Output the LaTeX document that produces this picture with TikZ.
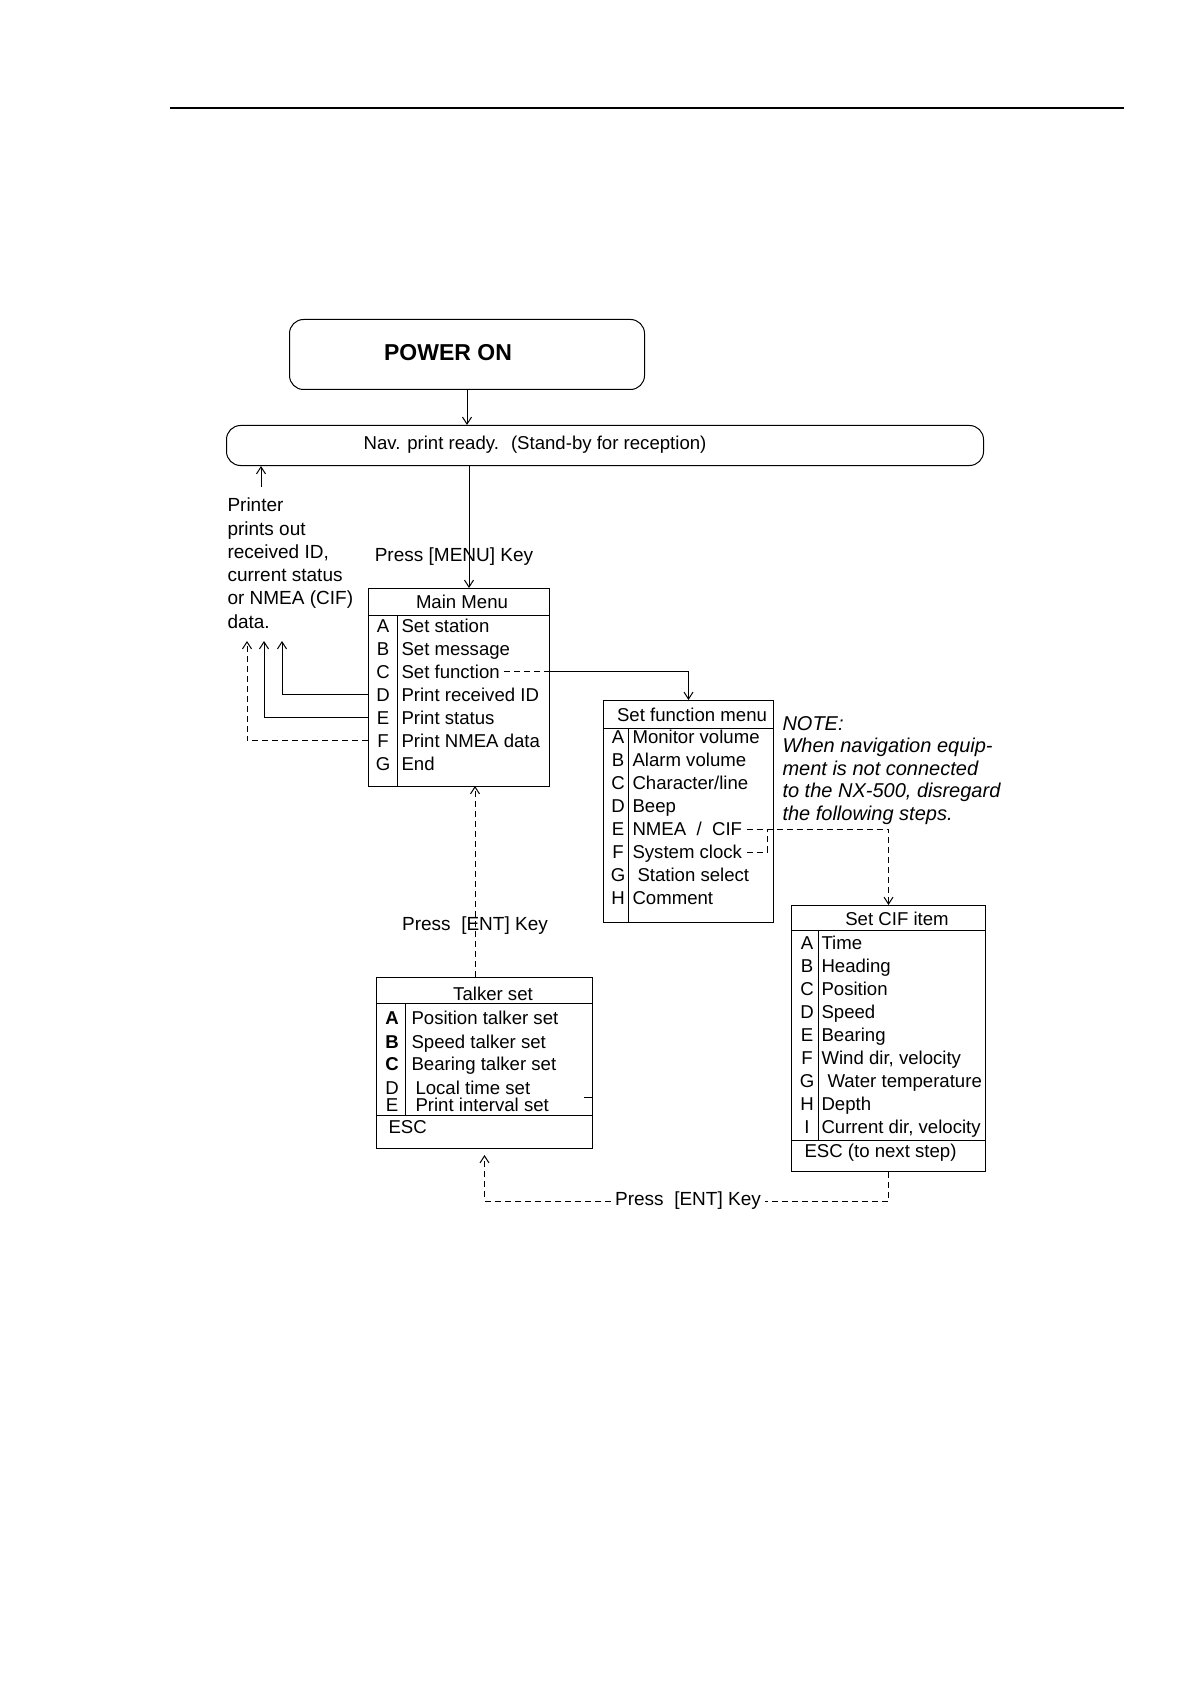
\documentclass[tikz,border=0pt]{standalone}
\usepackage{fontspec}
\setmainfont{Liberation Sans}
\usepackage{tikz}
\usetikzlibrary{arrows.meta}
\tikzstyle{menu} = [draw, rectangle, anchor=north west, inner sep=0pt, line width=.5pt]
\tikzstyle{oval} = [menu, rounded corners=7pt]
\tikzstyle{row} = [inner sep=0pt, text height=6.6pt, text depth=0pt]
\tikzstyle{item} = [row, anchor=west]
\tikzstyle{dashline} = [dash pattern=on 3pt off 2pt]

\begin{document}
\begin{tikzpicture}[x=.5pt,y=-.5pt,line width=.5pt,>={Straight Barb[length=3.5pt,width=4.5pt]},
  font=\fontsize{9.3}{11.6}\selectfont]
\useasboundingbox (0,0) rectangle (1190,1684);
\draw[line width=1pt] (170,108) -- (1124,108);

% top boxes
\node[oval, minimum width=177.5pt, minimum height=35pt] (power) at (289,319) {};
\node[font=\fontsize{11.5}{13}\bfseries] at (448,353) {POWER ON};
\node[oval, minimum width=378.5pt, minimum height=20pt] (nav) at (226,425) {};
\node (ready) at (535,445) {Nav. print ready. \ (Stand-by for reception)};
\draw[->] (power.south) -- (power.south |- nav.north);

\node[anchor=north west, align=left, inner sep=0pt, font=\fontsize{9.5}{11.65}\selectfont] (printer) at (227,497.5)
  {Printer\\prints out\\received ID,\\current status\\or NMEA (CIF)\\data.};
\coordinate (prt) at (261,487);
\draw[->] (prt) -- (prt |- nav.south);

% main menu
\node[menu, minimum width=90.5pt, minimum height=99pt] (main) at (368,588) {};
\node (mtitle) at (462,602) {Main Menu};
\draw (368,615) -- (549,615);
\draw (397,615) -- (397,786);
\foreach \k/\t [count=\i from 0] in {A/Set station,B/Set message,C/Set function,D/Print received ID,E/Print status,F/Print NMEA data,G/End}{
  \node[row] (mk\k) at (383,{626+22.9*\i}) {\k};
  \node[item] (mt\k) at (401,{626+22.9*\i}) {\t};
}
\coordinate (menuin) at (469,588);
\draw[->] (nav.south -| menuin) -- (menuin);
\node[font=\fontsize{9.5}{11}\selectfont] (menukey) at (454,557) {Press [MENU] Key};

\coordinate (tipD) at (282,641);
\coordinate (tipE) at (264,641);
\coordinate (tipF) at (247,641);
\draw[->] (mkD -| main.west) -| (tipD);
\draw[->] (mkE -| main.west) -| (tipE);
\draw[dashline,->] (mkF -| main.west) -| (tipF);

% set function menu
\node[menu, minimum width=85pt, minimum height=111pt] (setfn) at (603,700) {};
\node (stitle) at (692,715) {Set function menu};
\draw (603,728) -- (773,728);
\draw (628,728) -- (628,922);
\foreach \k/\t [count=\i from 0] in {A/Monitor volume,B/Alarm volume,C/{Character/line},D/Beep,E/{NMEA \ / \ CIF},F/System clock,G/\hspace{2.5pt}Station select,H/Comment}{
  \node[row] (sk\k) at (618,{737+23*\i}) {\k};
  \node[item] (st\k) at (632,{737+23*\i}) {\t};
}
\draw[dashline] ([xshift=2pt]mtC.east) -- (mtC -| main.east);
\draw[->] (mtC -| main.east) -| (setfn.north);

\node[anchor=north west, align=left, inner sep=0pt, font=\fontsize{10}{11.25}\itshape] (note) at (782,716)
  {NOTE:\\When navigation equip-\\ment is not connected\\to the NX-500, disregard\\the following steps.};

% set CIF item
\node[menu, minimum width=97pt, minimum height=133pt] (cif) at (791,905) {};
\node (ctitle) at (897,919) {Set CIF item};
\draw (791,930) -- (985,930);
\draw (818,930) -- (818,1140);
\draw (791,1140) -- (985,1140);
\foreach \k/\t [count=\i from 0] in {A/Time,B/Heading,C/Position,D/Speed,E/Bearing,{F/Wind dir, velocity},G/\hspace{3pt}Water temperature,H/Depth,{I/Current dir, velocity}}{
  \node[row] (ck\k) at (807,{943+23*\i}) {\k};
  \node[item] (ct\k) at (821,{943+23*\i}) {\t};
}
\node[item] (cesc) at (804,1151) {ESC (to next step)};
\coordinate (clk) at (767,830);
\draw[dashline,->] ([xshift=2pt]stE.east) -| (cif.north);
\draw[dashline] ([xshift=2pt]stF.east) -| (clk);

% talker set
\node[menu, minimum width=108pt, minimum height=85.5pt] (talker) at (376,977) {};
\node (ttitle) at (493,994) {Talker set};
\draw (376,1003) -- (592,1003);
\draw (405,1003) -- (405,1115);
\draw (376,1115) -- (592,1115);
\draw (584,1097) -- (593,1097);
\foreach \k/\t/\y/\x in {\textbf{A}/Position talker set/1018/411,\textbf{B}/Speed talker set/1042/411,\textbf{C}/Bearing talker set/1064/411,D/Local time set/1088/415,E/Print interval set/1105/415}{
  \node[row] at (392,\y) {\k};
  \node[item] at (\x,\y) {\t};
}
\node[item] (tesc) at (388,1127) {ESC};

\coordinate (entin) at (475,786);
\draw[dashline,->] (talker.north -| entin) -- (entin);
\node[font=\fontsize{9.5}{11}\selectfont] (entkey) at (475,926) {Press \ [ENT] Key};

\node[inner sep=2pt, font=\fontsize{9.5}{11}\selectfont] (back) at (688,1201) {Press \ [ENT] Key};
\draw[dashline] (cif.south) |- (back.east);
\draw[dashline,->,shorten >=3pt] (back.west) -| (talker.south);
\end{tikzpicture}
\end{document}
